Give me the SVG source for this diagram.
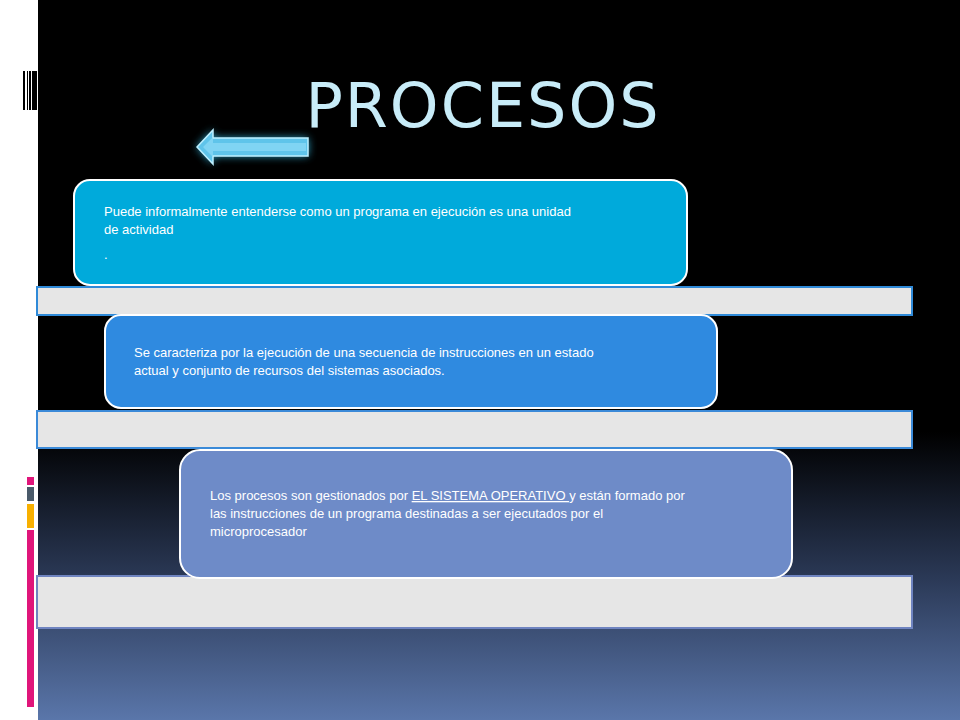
<svg xmlns="http://www.w3.org/2000/svg" width="960" height="720" viewBox="0 0 960 720">
<defs>
<linearGradient id="bg" x1="0" y1="0" x2="0" y2="1">
<stop offset="0" stop-color="#000"/><stop offset="0.6" stop-color="#000"/><stop offset="0.8" stop-color="#2a3855"/><stop offset="1" stop-color="#5a76aa"/>
</linearGradient>
<filter id="glow" x="-30%" y="-80%" width="160%" height="260%"><feGaussianBlur stdDeviation="4"/></filter>
<style>
.t{font-family:"Liberation Sans",Arial,sans-serif;font-size:13px;fill:#fff}
.bar{fill:#e6e6e6;stroke-width:2}
.box{stroke:#fff;stroke-width:2}
</style>
</defs>
<rect width="960" height="720" fill="#fff"/>
<rect x="38" y="0" width="922" height="720" fill="url(#bg)"/>
<g id="barcode" fill="#000">
<rect x="23" y="71" width="2" height="39"/><rect x="27" y="71" width="1" height="39"/><rect x="29" y="71" width="2" height="39"/><rect x="32" y="71" width="5" height="39"/>
</g>
<g id="sidebars">
<rect x="27" y="477" width="7" height="8" fill="#e0157a"/>
<rect x="27" y="487" width="7" height="14" fill="#4a5a6a"/>
<rect x="27" y="504" width="7" height="24" fill="#f8b000"/>
<rect x="27" y="530" width="7" height="177" fill="#e0157a"/>
</g>
<text x="483" y="127" text-anchor="middle" style="font-family:'DejaVu Sans',sans-serif;font-size:62px;fill:#c8ecf8;letter-spacing:2px">PROCESOS</text>
<g id="arrow">
<path d="M197 147 L213 130 L213 138 L308 138 L308 156 L213 156 L213 164 Z" fill="#3ad0ff" filter="url(#glow)" opacity="0.8"/>
<path d="M197 147 L213 130 L213 138 L308 138 L308 156 L213 156 L213 164 Z" fill="#5fc4ea" stroke="#bff0ff" stroke-width="1.5"/>
<path d="M203 147 L213 137 L213 143 L306 143 L306 151 L213 151 L213 157 Z" fill="#8fdcf6" opacity="0.7"/>
</g>
<g id="bars">
<rect class="bar" x="37" y="287" width="875" height="28" stroke="#2f8ad8"/>
<rect class="bar" x="37" y="411" width="875" height="37" stroke="#3b8ad8"/>
<rect class="bar" x="37" y="576" width="875" height="52" stroke="#6f84c0"/>
</g>
<g id="n1">
<rect class="box" x="74" y="180" width="613" height="105" rx="16" fill="#00aadb"/>
<text class="t" x="104" y="216">Puede informalmente entenderse como un programa en ejecución es  una unidad</text>
<text class="t" x="104" y="234">de actividad</text>
<text class="t" x="104" y="259">.</text>
</g>
<g id="n2">
<rect class="box" x="105" y="315" width="612" height="93" rx="16" fill="#2f8ae0"/>
<text class="t" x="134" y="357">Se caracteriza  por la ejecución de una secuencia de instrucciones  en un estado</text>
<text class="t" x="134" y="375">actual y conjunto de recursos del  sistemas asociados.</text>
</g>
<g id="n3">
<rect class="box" x="180" y="450" width="612" height="128" rx="20" fill="#6e8bc8"/>
<text class="t" x="210" y="500">Los procesos son gestionados por <tspan text-decoration="underline">EL SISTEMA OPERATIVO </tspan>y  están formado por</text>
<text class="t" x="210" y="518">las  instrucciones de un programa destinadas a ser ejecutados por el</text>
<text class="t" x="210" y="536">microprocesador</text>
</g>
</svg>
